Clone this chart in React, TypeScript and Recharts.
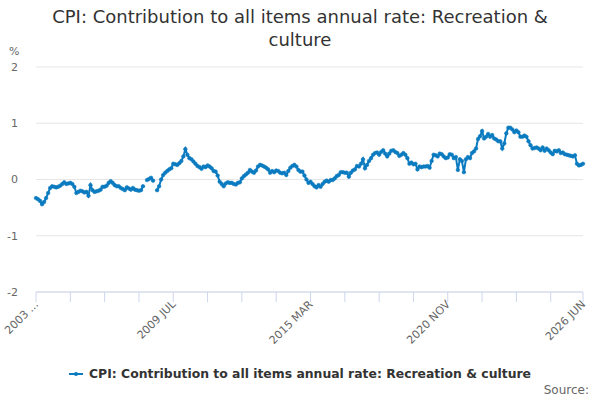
import React from 'react';
import { LineChart, Line, XAxis, YAxis, CartesianGrid, Legend } from 'recharts';

const SERIES_NAME = 'CPI: Contribution to all items annual rate: Recreation & culture';
const LINE_COLOR = '#0b7bc0';

const MONTHS = ['JAN', 'FEB', 'MAR', 'APR', 'MAY', 'JUN', 'JUL', 'AUG', 'SEP', 'OCT', 'NOV', 'DEC'];
const START_YEAR = 2003;
const START_MONTH = 10; // NOV

// monthly values (%); null = no data
const y2003 = [-0.33, -0.35];
const y2004 = [-0.38, -0.44, -0.4, -0.33, -0.24, -0.15, -0.12, -0.13, -0.14, -0.13, -0.11, -0.08];
const y2005 = [-0.05, -0.08, -0.07, -0.06, -0.08, -0.13, -0.24, -0.22, -0.2, -0.21, -0.23, -0.22];
const y2006 = [-0.29, -0.1, -0.19, -0.22, -0.21, -0.2, -0.18, -0.13, -0.13, -0.11, -0.06, -0.03];
const y2007 = [-0.06, -0.1, -0.12, -0.12, -0.15, -0.17, -0.19, -0.14, -0.16, -0.18, -0.15, -0.18];
const y2008 = [-0.19, -0.2, -0.19, -0.12, null, -0.01, 0.01, 0.03, -0.02, null, -0.19, -0.12];
const y2009 = [0.0, 0.08, 0.12, 0.15, 0.18, 0.2, 0.28, 0.27, 0.26, 0.29, 0.33, 0.41];
const y2010 = [0.54, 0.44, 0.38, 0.36, 0.32, 0.28, 0.24, 0.22, 0.19, 0.23, 0.22, 0.25];
const y2011 = [0.23, 0.2, 0.15, 0.14, 0.07, -0.04, -0.08, -0.12, -0.07, -0.05, -0.06, -0.06];
const y2012 = [-0.08, -0.09, -0.06, -0.05, 0.02, 0.06, 0.09, 0.12, 0.17, 0.14, 0.12, 0.16];
const y2013 = [0.23, 0.26, 0.25, 0.23, 0.21, 0.18, 0.12, 0.15, 0.13, 0.16, 0.15, 0.12];
const y2014 = [0.11, 0.12, 0.08, 0.15, 0.21, 0.24, 0.26, 0.23, 0.17, 0.14, 0.14, 0.07];
const y2015 = [0.0, -0.06, -0.04, -0.08, -0.12, -0.14, -0.1, -0.13, -0.08, -0.04, -0.02, -0.04];
const y2016 = [-0.01, -0.01, 0.02, 0.06, 0.08, 0.13, 0.13, 0.12, 0.12, 0.05, 0.12, 0.16];
const y2017 = [0.18, 0.24, 0.23, 0.28, 0.36, 0.2, 0.26, 0.33, 0.38, 0.44, 0.47, 0.48];
const y2018 = [0.44, 0.49, 0.52, 0.46, 0.41, 0.46, 0.51, 0.52, 0.49, 0.47, 0.42, 0.44];
const y2019 = [0.47, 0.44, 0.38, 0.28, 0.3, 0.27, 0.28, 0.18, 0.23, 0.22, 0.23, 0.23];
const y2020 = [0.24, 0.21, 0.33, 0.44, 0.43, 0.41, 0.46, 0.45, 0.41, 0.38, 0.39, 0.45];
const y2021 = [0.44, 0.38, 0.4, 0.17, 0.36, 0.33, 0.13, 0.36, 0.4, 0.38, 0.47, 0.5];
const y2022 = [0.55, 0.72, 0.77, 0.86, 0.73, 0.76, 0.81, 0.76, 0.79, 0.73, 0.71, 0.68];
const y2023 = [0.68, 0.55, 0.64, 0.82, 0.92, 0.92, 0.89, 0.84, 0.87, 0.84, 0.76, 0.76];
const y2024 = [0.78, 0.76, 0.68, 0.61, 0.55, 0.56, 0.57, 0.55, 0.52, 0.57, 0.51, 0.55];
const y2025 = [0.52, 0.48, 0.45, 0.51, 0.5, 0.52, 0.47, 0.48, 0.45, 0.44, 0.43, 0.42];
const y2026 = [0.41, 0.43, 0.28, 0.25, 0.26, 0.28];

const values: (number | null)[] = [
  ...y2003, ...y2004, ...y2005, ...y2006, ...y2007, ...y2008, ...y2009, ...y2010,
  ...y2011, ...y2012, ...y2013, ...y2014, ...y2015, ...y2016, ...y2017, ...y2018,
  ...y2019, ...y2020, ...y2021, ...y2022, ...y2023, ...y2024, ...y2025, ...y2026,
];

const tickMonths = [
  '2003 NOV', '2005 APR', '2006 SEP', '2008 FEB', '2009 JUL', '2010 DEC', '2012 MAY', '2013 OCT',
  '2015 MAR', '2016 AUG', '2018 JAN', '2019 JUN', '2020 NOV', '2022 APR', '2023 SEP', '2025 FEB', '2026 JUN',
];
const tickText: Record<string, string> = {
  '2003 NOV': '2003 ...',
  '2009 JUL': '2009 JUL',
  '2015 MAR': '2015 MAR',
  '2020 NOV': '2020 NOV',
  '2026 JUN': '2026 JUN',
};
const yTicks = [-2, -1, 0, 1, 2];

const data = values.map((value, i) => {
  const m = START_MONTH + i;
  return { month: `${START_YEAR + Math.floor(m / 12)} ${MONTHS[m % 12]}`, value };
});

const XTick = (props: any) => {
  const { x, y, payload } = props;
  const text = tickText[payload.value];
  if (!text) return null;
  const px = x + 3;
  const py = y + 3;
  return (
    <text x={px} y={py} transform={`rotate(-45, ${px}, ${py})`} textAnchor="end" fontSize={11} fill="#666">
      {text}
    </text>
  );
};

const LegendContent = () => (
  <div style={{ display: 'flex', justifyContent: 'center', alignItems: 'center' }}>
    <svg width={14} height={10}>
      <line x1={0} y1={5} x2={14} y2={5} stroke={LINE_COLOR} strokeWidth={2} />
      <circle cx={7} cy={5} r={2} fill={LINE_COLOR} />
    </svg>
    <span style={{ marginLeft: 6, fontWeight: 'bold', fontSize: 12.4, color: '#333' }}>{SERIES_NAME}</span>
  </div>
);

export default function App() {
  return (
    <div
      style={{
        position: 'absolute',
        left: 0,
        top: 0,
        width: 600,
        height: 400,
        background: '#fff',
        fontFamily: '"DejaVu Sans", sans-serif',
      }}
    >
      <div
        style={{
          position: 'absolute',
          top: 5,
          left: 0,
          width: 600,
          textAlign: 'center',
          fontSize: 18,
          lineHeight: '23px',
          color: '#333',
        }}
      >
        CPI: Contribution to all items annual rate: Recreation &amp;
        <br />
        culture
      </div>
      <div style={{ position: 'absolute', left: 9, top: 45, fontSize: 11, color: '#666' }}>%</div>
      <LineChart width={600} height={400} data={data} margin={{ top: 67, right: 17, bottom: 78, left: 0 }}>
        <CartesianGrid vertical={false} stroke="#e6e6e6" />
        <XAxis
          dataKey="month"
          ticks={tickMonths}
          interval={0}
          tick={<XTick />}
          tickSize={10}
          tickMargin={0}
          height={30}
          axisLine={{ stroke: '#ccd6eb' }}
          tickLine={{ stroke: '#ccd6eb' }}
        />
        <YAxis
          domain={[-2, 2]}
          ticks={yTicks}
          width={36}
          axisLine={false}
          tickLine={false}
          tickSize={0}
          tickMargin={18}
          tick={{ fontSize: 11, fill: '#666' }}
        />
        <Legend
          layout="horizontal"
          verticalAlign="middle"
          align="center"
          content={<LegendContent />}
          wrapperStyle={{ top: 366, left: 0, width: 600 }}
        />
        <Line
          type="linear"
          dataKey="value"
          name={SERIES_NAME}
          stroke={LINE_COLOR}
          strokeWidth={2}
          dot={{ r: 1.8, fill: LINE_COLOR, stroke: LINE_COLOR, strokeWidth: 0.6 }}
          connectNulls={false}
          isAnimationActive={false}
        />
      </LineChart>
      <div style={{ position: 'absolute', right: 11, top: 383, fontSize: 12, color: '#666' }}>Source:</div>
    </div>
  );
}
